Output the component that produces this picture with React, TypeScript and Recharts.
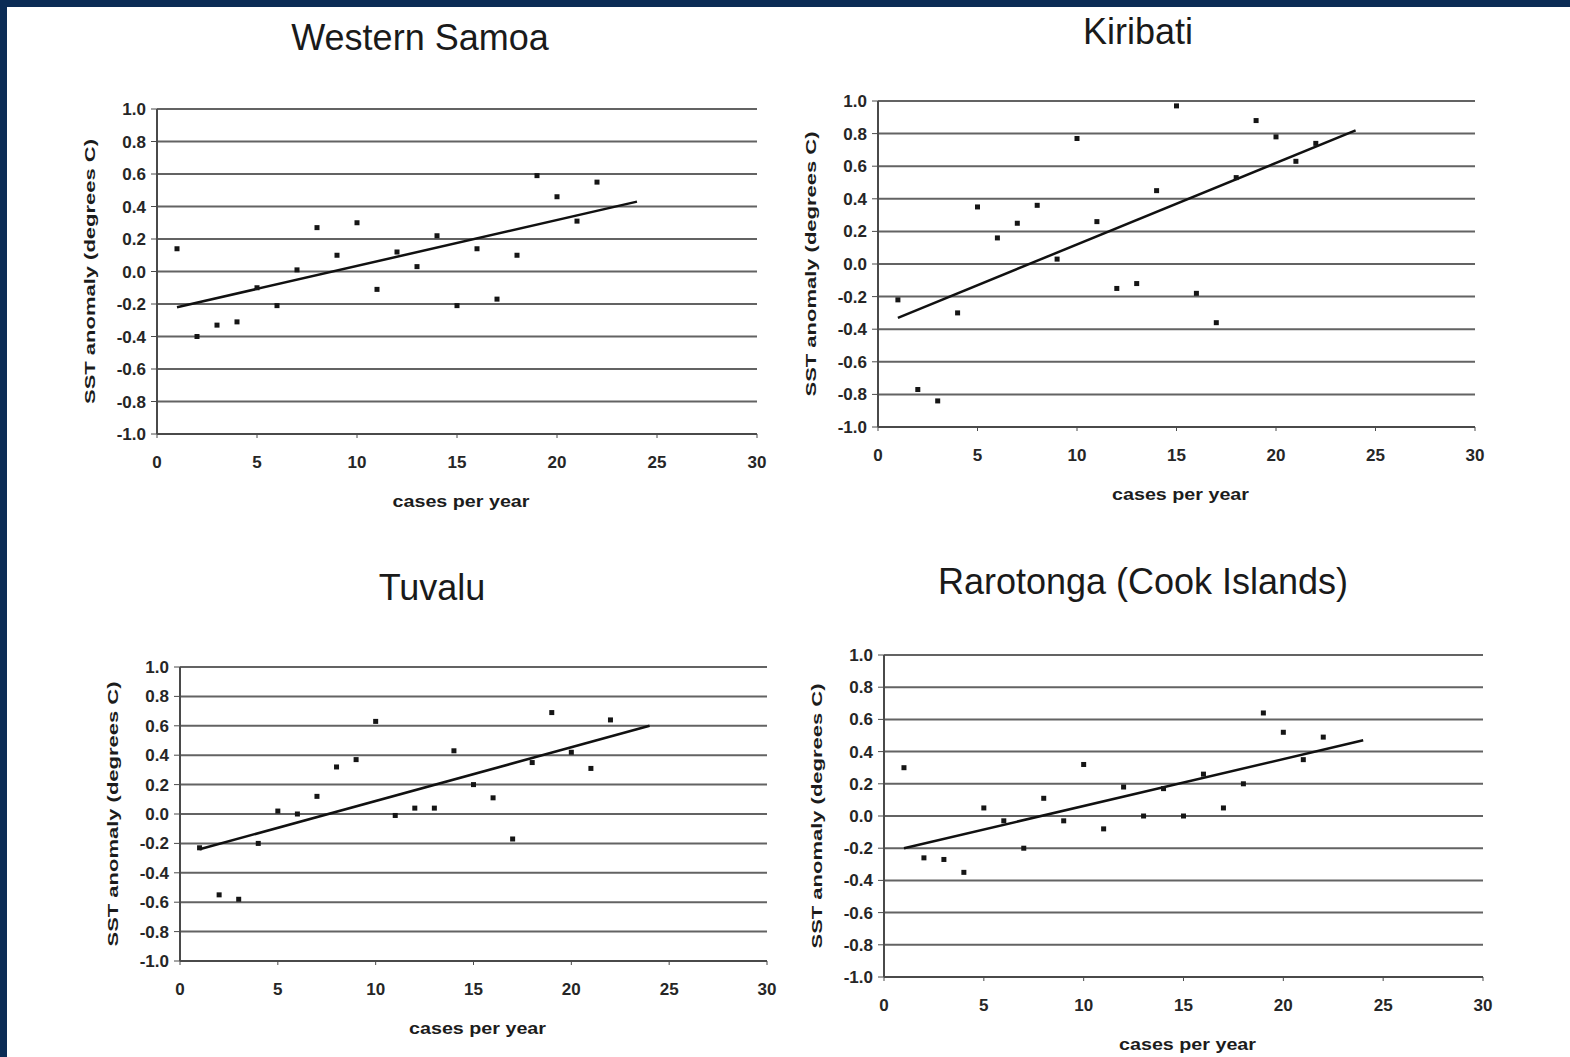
import { ScatterChart, Scatter, XAxis, YAxis, CartesianGrid, Label } from "recharts";

const cases = [1, 2, 3, 4, 5, 6, 7, 8, 9, 10, 11, 12, 13, 14, 15, 16, 17, 18, 19, 20, 21, 22];

const samoaSst = [0.14, -0.4, -0.33, -0.31, -0.1, -0.21, 0.01, 0.27, 0.1, 0.3, -0.11, 0.12, 0.03, 0.22, -0.21, 0.14, -0.17, 0.1, 0.59, 0.46, 0.31, 0.55];
const kiribatiSst = [-0.22, -0.77, -0.84, -0.3, 0.35, 0.16, 0.25, 0.36, 0.03, 0.77, 0.26, -0.15, -0.12, 0.45, 0.97, -0.18, -0.36, 0.53, 0.88, 0.78, 0.63, 0.74];
const tuvaluSst = [-0.23, -0.55, -0.58, -0.2, 0.02, 0.0, 0.12, 0.32, 0.37, 0.63, -0.01, 0.04, 0.04, 0.43, 0.2, 0.11, -0.17, 0.35, 0.69, 0.42, 0.31, 0.64];
const rarotongaSst = [0.3, -0.26, -0.27, -0.35, 0.05, -0.03, -0.2, 0.11, -0.03, 0.32, -0.08, 0.18, 0.0, 0.17, 0.0, 0.26, 0.05, 0.2, 0.64, 0.52, 0.35, 0.49];

// trend lines: endpoints
const trendCases = [1, 24];
const samoaTrend = [-0.22, 0.43];
const kiribatiTrend = [-0.33, 0.82];
const tuvaluTrend = [-0.24, 0.6];
const rarotongaTrend = [-0.2, 0.47];

const xTicks = [0, 5, 10, 15, 20, 25, 30];
const yTicks = [-1, -0.8, -0.6, -0.4, -0.2, 0, 0.2, 0.4, 0.6, 0.8, 1];

const toPoints = (xs: number[], ys: number[]) => xs.map((x, i) => ({ x, y: ys[i] }));

const FONT = "'Liberation Sans', Arial, sans-serif";

const Dot = (props: any) => {
  const { cx, cy } = props;
  if (cx == null || cy == null) return <g />;
  return <rect x={cx - 2.5} y={cy - 2.5} width={5} height={5} fill="#151515" />;
};

const NoDot = () => <g />;

const YTitle = (props: any) => {
  const vb = props.viewBox || { x: 0, y: 0, width: 100, height: 300 };
  const x = vb.x + vb.width - 68;
  const y = vb.y + vb.height / 2;
  return (
    <text
      x={x}
      y={y}
      transform={`rotate(-90, ${x}, ${y})`}
      textAnchor="middle"
      dominantBaseline="central"
      textLength={265}
      lengthAdjust="spacingAndGlyphs"
      fontFamily={FONT}
      fontWeight={700}
      fontSize={15}
      fill="#1c1c1c"
    >
      SST anomaly (degrees C)
    </text>
  );
};

const XTitle = (props: any) => {
  const vb = props.viewBox || { x: 0, y: 0, width: 600, height: 90 };
  const x = vb.x + vb.width / 2 + 4;
  const y = vb.y + 67;
  return (
    <text
      x={x}
      y={y}
      textAnchor="middle"
      dominantBaseline="central"
      textLength={137}
      lengthAdjust="spacingAndGlyphs"
      fontFamily={FONT}
      fontWeight={700}
      fontSize={17}
      fill="#1c1c1c"
    >
      cases per year
    </text>
  );
};

type PanelProps = {
  title: string;
  titleX: number;
  titleY: number;
  left: number;
  top: number;
  w: number;
  h: number;
  sst: number[];
  trend: number[];
};

function Panel({ title, titleX, titleY, left, top, w, h, sst, trend }: PanelProps) {
  const padL = 100;
  const padT = 20;
  const padR = 30;
  const padB = 90;
  return (
    <>
      <div
        style={{
          position: "absolute",
          left: titleX - 300,
          top: titleY - 21,
          width: 600,
          lineHeight: "42px",
          textAlign: "center",
          fontFamily: FONT,
          fontSize: 36,
          color: "#1a1a1a",
        }}
      >
        {title}
      </div>
      <div style={{ position: "absolute", left: left - padL, top: top - padT }}>
        <ScatterChart
          width={w + padL + padR}
          height={h + padT + padB}
          margin={{ top: padT, right: padR, bottom: 0, left: 0 }}
        >
          <CartesianGrid vertical={false} stroke="#636363" strokeWidth={2} />
          <XAxis
            type="number"
            dataKey="x"
            domain={[0, 30]}
            ticks={xTicks}
            height={padB}
            tickSize={4}
            tickMargin={18}
            axisLine={{ stroke: "#4a4a4a", strokeWidth: 2 }}
            tickLine={{ stroke: "#4a4a4a" }}
            tick={{ fontFamily: FONT, fontSize: 17, fontWeight: 700, fill: "#262626" }}
          >
            <Label content={<XTitle />} />
          </XAxis>
          <YAxis
            type="number"
            dataKey="y"
            domain={[-1, 1]}
            ticks={yTicks}
            width={padL}
            tickSize={6}
            tickMargin={5}
            tickFormatter={(v: number) => v.toFixed(1)}
            axisLine={{ stroke: "#4a4a4a", strokeWidth: 2 }}
            tickLine={{ stroke: "#4a4a4a" }}
            tick={{ fontFamily: FONT, fontSize: 17, fontWeight: 700, fill: "#262626" }}
          >
            <Label content={<YTitle />} />
          </YAxis>
          <Scatter
            data={toPoints(trendCases, trend)}
            line={{ stroke: "#111", strokeWidth: 2.5 }}
            shape={NoDot}
            isAnimationActive={false}
          />
          <Scatter data={toPoints(cases, sst)} shape={Dot} isAnimationActive={false} />
        </ScatterChart>
      </div>
    </>
  );
}

export default function App() {
  return (
    <div
      style={{
        position: "absolute",
        left: 0,
        top: 0,
        width: 1570,
        height: 1057,
        background: "#fff",
        overflow: "hidden",
      }}
    >
      <div style={{ position: "absolute", left: 0, top: 0, width: 1570, height: 7, background: "#0b2c55" }} />
      <div style={{ position: "absolute", left: 0, top: 0, width: 7, height: 1057, background: "#0b2c55" }} />
      <Panel title="Western Samoa" titleX={420} titleY={38} left={157} top={109} w={600} h={325} sst={samoaSst} trend={samoaTrend} />
      <Panel title="Kiribati" titleX={1138} titleY={32} left={878} top={101} w={597} h={326} sst={kiribatiSst} trend={kiribatiTrend} />
      <Panel title="Tuvalu" titleX={432} titleY={588} left={180} top={667} w={587} h={294} sst={tuvaluSst} trend={tuvaluTrend} />
      <Panel title="Rarotonga (Cook Islands)" titleX={1143} titleY={582} left={884} top={655} w={599} h={322} sst={rarotongaSst} trend={rarotongaTrend} />
    </div>
  );
}
